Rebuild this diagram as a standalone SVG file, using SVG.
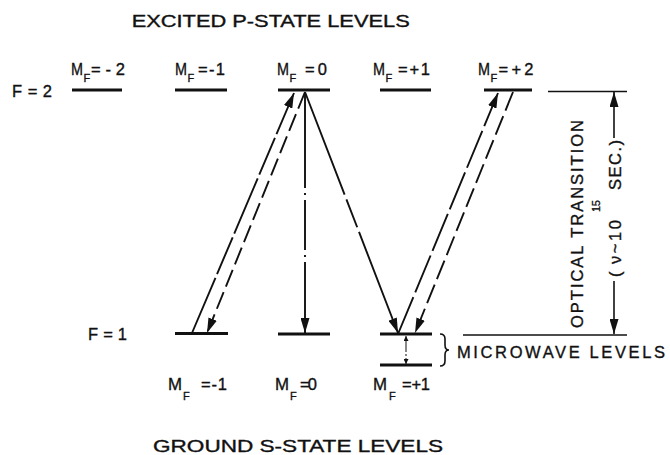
<svg xmlns="http://www.w3.org/2000/svg" width="670" height="455" viewBox="0 0 670 455">
<style>
text{font-family:"Liberation Sans",Arial,sans-serif;fill:#111;font-size:16.5px;stroke:#111;stroke-width:0.35}
.sub{font-size:11px}
.lvl{stroke:#111;stroke-width:3;fill:none}
.ref{stroke:#111;stroke-width:1.6;fill:none}
.arr{stroke:#111;stroke-width:1.9;fill:none}
</style>
<defs>
<marker id="ah" markerUnits="userSpaceOnUse" markerWidth="16" markerHeight="9" refX="15" refY="4.5" orient="auto">
<path d="M0,0 L15,4.5 L0,9 z" fill="#111"/>
</marker>
<marker id="as" markerUnits="userSpaceOnUse" markerWidth="6" markerHeight="5" refX="5" refY="2.5" orient="auto">
<path d="M0,0 L5,2.5 L0,5 z" fill="#111"/>
</marker>
</defs>
<rect width="670" height="455" fill="#fff"/>

<text x="131.7" y="27" textLength="278" lengthAdjust="spacingAndGlyphs">EXCITED P-STATE LEVELS</text>
<text x="153" y="452" textLength="290" lengthAdjust="spacingAndGlyphs">GROUND S-STATE LEVELS</text>
<text x="12" y="97" textLength="40" lengthAdjust="spacing">F = 2</text>
<text x="88" y="340" textLength="39" lengthAdjust="spacing">F = 1</text>

<g id="p-m2">
<line class="lvl" x1="72" y1="90" x2="122" y2="90"/>
<text x="71" y="75" textLength="12" lengthAdjust="spacingAndGlyphs">M</text><text class="sub" x="83.5" y="82">F</text><text x="91" y="75" textLength="34" lengthAdjust="spacing">=-2</text>
</g>
<g id="p-m1">
<line class="lvl" x1="175" y1="90" x2="227" y2="90"/>
<text x="175" y="75" textLength="12" lengthAdjust="spacingAndGlyphs">M</text><text class="sub" x="187.5" y="82">F</text><text x="198" y="75" textLength="27" lengthAdjust="spacing">=-1</text>
</g>
<g id="p-0">
<line class="lvl" x1="278" y1="90" x2="330" y2="90"/>
<text x="277" y="75" textLength="12" lengthAdjust="spacingAndGlyphs">M</text><text class="sub" x="289.5" y="82">F</text><text x="305" y="75" textLength="22" lengthAdjust="spacing">=0</text>
</g>
<g id="p-p1">
<line class="lvl" x1="380" y1="90" x2="431" y2="90"/>
<text x="373" y="75" textLength="12" lengthAdjust="spacingAndGlyphs">M</text><text class="sub" x="385.5" y="82">F</text><text x="398" y="75" textLength="32" lengthAdjust="spacing">=+1</text>
</g>
<g id="p-p2">
<line class="lvl" x1="484" y1="90" x2="532" y2="90"/>
<text x="478" y="75" textLength="12" lengthAdjust="spacingAndGlyphs">M</text><text class="sub" x="490.5" y="82">F</text><text x="498.5" y="75" textLength="35" lengthAdjust="spacing">=+2</text>
</g>

<g id="s-m1">
<line class="lvl" x1="175" y1="333.5" x2="228" y2="333.5"/>
<text x="168" y="390" textLength="14" lengthAdjust="spacingAndGlyphs">M</text><text class="sub" x="183" y="400">F</text><text x="201" y="390" textLength="26" lengthAdjust="spacing">=-1</text>
</g>
<g id="s-0">
<line class="lvl" x1="278" y1="334" x2="330" y2="334"/>
<text x="275" y="390" textLength="14" lengthAdjust="spacingAndGlyphs">M</text><text class="sub" x="290" y="400">F</text><text x="300" y="390" textLength="17" lengthAdjust="spacing">=0</text>
</g>
<g id="s-p1">
<line class="lvl" x1="380" y1="334" x2="432" y2="334"/>
<line class="lvl" x1="380" y1="365" x2="432" y2="365"/>
<text x="373" y="390" textLength="14" lengthAdjust="spacingAndGlyphs">M</text><text class="sub" x="389" y="400">F</text><text x="402" y="390" textLength="28" lengthAdjust="spacing">=+1</text>
</g>

<g id="microwave">
<path d="M440,334 q5,0 5,5 v6 q0,5 4,5 q-4,0 -4,5 v6 q0,5 -5,5" fill="none" stroke="#111" stroke-width="1.6"/>
<text x="457" y="358" textLength="208" lengthAdjust="spacing">MICROWAVE LEVELS</text>
</g>

<g id="optical">
<line class="ref" x1="548" y1="91.5" x2="627" y2="91.5"/>
<line class="ref" x1="463" y1="335" x2="627" y2="335"/>
<g transform="translate(583,224) rotate(-90)">
<text x="0" y="0" text-anchor="middle" textLength="208" lengthAdjust="spacing">OPTICAL TRANSITION</text>
</g>
<g transform="translate(621,0) rotate(-90)">
<text x="-277" y="0">(</text>
<text x="-264" y="0" textLength="44" lengthAdjust="spacing">ν~10</text>
<text class="sub" x="-212" y="-21" textLength="12" lengthAdjust="spacing">15</text>
<text x="-190" y="0" textLength="50" lengthAdjust="spacing">SEC.)</text>
</g>
</g>

<g id="connectors">
<line class="arr" x1="192" y1="333" x2="294" y2="93" stroke-dasharray="60 4 40 4" marker-end="url(#ah)"/>
<line class="arr" x1="305" y1="92" x2="207" y2="333" stroke-dasharray="18 6" marker-end="url(#ah)"/>
<line class="arr" x1="305" y1="92" x2="305" y2="333" stroke-dasharray="96 5 2 5 50 5 2 5" marker-end="url(#ah)"/>
<line class="arr" x1="305" y1="92" x2="398" y2="333" stroke-dasharray="110 5 30 5" marker-end="url(#ah)"/>
<line class="arr" x1="398" y1="334" x2="498" y2="93" stroke-dasharray="40 5" marker-end="url(#ah)"/>
<line class="arr" x1="513" y1="92" x2="415" y2="333" stroke-dasharray="20 6" marker-end="url(#ah)"/>
<line x1="406" y1="350" x2="406" y2="336" stroke="#111" stroke-width="1" marker-end="url(#as)"/>
<line x1="406" y1="350" x2="406" y2="364" stroke="#111" stroke-width="1" stroke-dasharray="2 2" marker-end="url(#as)"/>
<line x1="614" y1="138" x2="614" y2="92" stroke="#111" stroke-width="1.6" marker-end="url(#ah)"/>
<line x1="614" y1="281" x2="614" y2="334" stroke="#111" stroke-width="1.6" marker-end="url(#ah)"/>
</g>
</svg>
